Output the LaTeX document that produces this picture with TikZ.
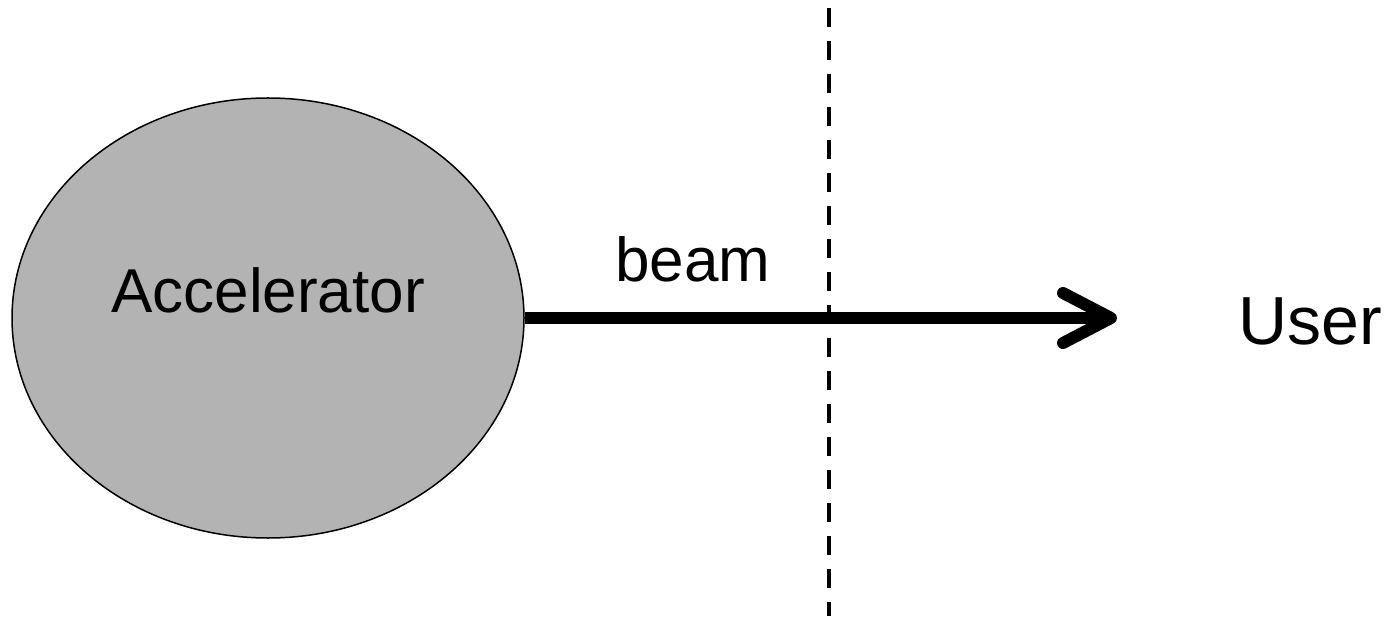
\documentclass[tikz,border=0pt]{standalone}
\usepackage{fontspec}
\setmainfont{Liberation Sans}
\usetikzlibrary{shapes.geometric,arrows.meta}
\definecolor{accgray}{RGB}{179,179,179}

\begin{document}
\begin{tikzpicture}[x=0.5pt, y=0.5pt,
  lbl/.style={anchor=base, font=\fontsize{31}{36}\selectfont}]
  \useasboundingbox (0,0) rectangle (1390,616);
  \node[ellipse, draw, fill=accgray, line width=0.75pt,
        minimum width=256pt, minimum height=220pt, inner sep=0pt] (acc) at (268,298) {};
  \node[lbl] (acctext) at (268,303) {Accelerator};
  \coordinate (tip) at (1117,298);
  \draw[line width=6pt, -{Straight Barb[length=24pt, width=25pt, round]}] (acc.east) -- (tip);
  \node[lbl] (beam) at (693,334) {beam};
  \node[lbl, font=\fontsize{34}{40}\selectfont] (user) at (1310,271) {User};
  % dashed cut between the two sides
  \coordinate (cuttop) at (829,608);
  \coordinate (cutbot) at (829,0);
  \draw[line width=2pt, dash pattern=on 9.5pt off 7pt] (cuttop) -- (cutbot);
\end{tikzpicture}
\end{document}
